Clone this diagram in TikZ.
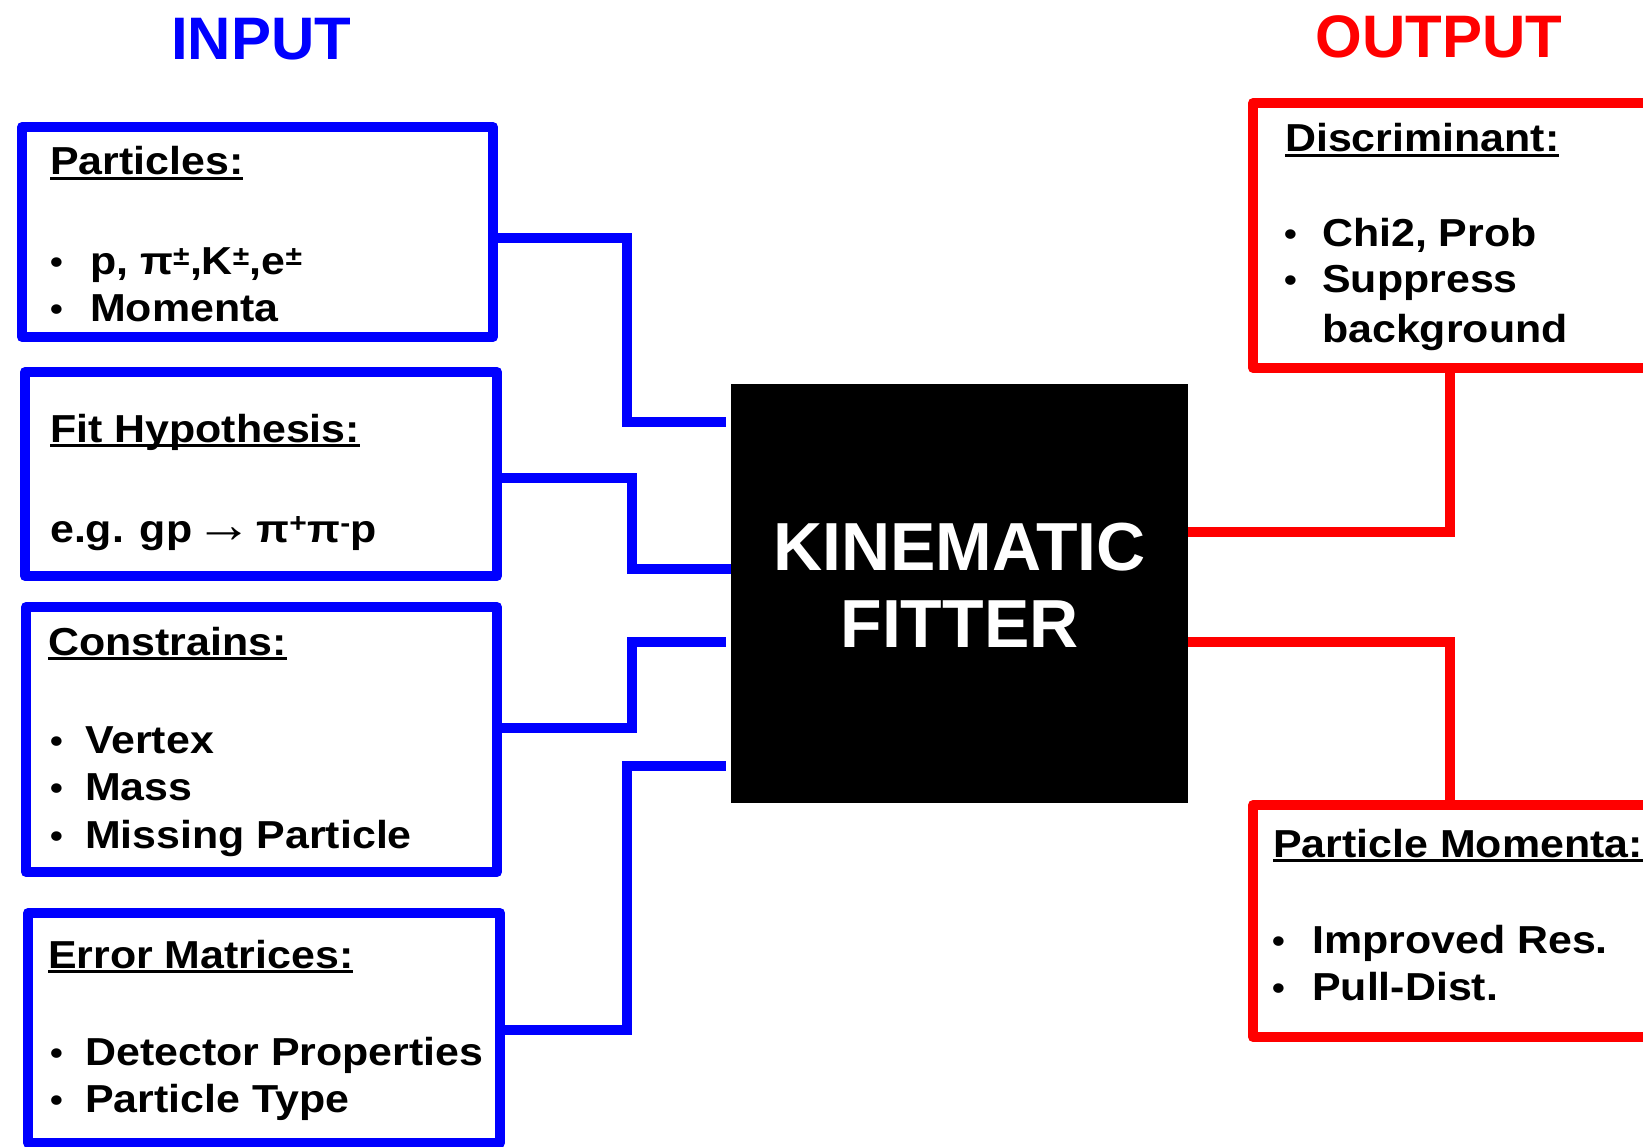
\documentclass[tikz,border=0pt]{standalone}
\usepackage{fontspec}
\setmainfont{Liberation Sans}
\newfontfamily\bodyf{Liberation Sans}[FakeStretch=1.1]
\newcommand\hd[1]{\leavevmode\setbox0=\hbox{#1}\rlap{\vrule height -2pt depth 5pt width \wd0}\box0}
\newcommand\bul[1][36pt]{\makebox[#1][l]{\raisebox{1pt}{\scalebox{0.85}{•}}}}
\begin{document}
\begin{tikzpicture}[x=1pt,y=-1pt,
  inbox/.style={draw=blue, line width=10pt, fill=white, inner sep=0pt, line join=round},
  outbox/.style={draw=red, line width=10pt, fill=white, inner sep=0pt, line join=round},
  bconn/.style={draw=blue, line width=10pt},
  rconn/.style={draw=red, line width=10pt},
  txt/.style={anchor=base west, inner sep=0pt, font=\bodyf\bfseries\fontsize{39}{47}\selectfont},
  title/.style={anchor=base, inner sep=0pt, font=\bfseries\fontsize{60}{70}\selectfont},
  kftxt/.style={anchor=base, inner sep=0pt, text=white, font=\bfseries\fontsize{68}{77}\selectfont}
  ]
\useasboundingbox (0,0) rectangle (1643,1147);
\clip (0,0) rectangle (1643,1147);
\fill[white] (0,0) rectangle (1643,1147);

% titles
\node[title, text=blue] (tin) at (261,60) {INPUT};
\node[title, text=red] (tout) at (1439,58) {OUTPUT};

% central box
\node[fill=black, inner sep=0pt, minimum width=457pt, minimum height=419pt] (kf) at (959.5,593.5) {};

% input boxes
\node[inbox, minimum width=471pt, minimum height=210pt] (b1) at (257.5,232) {};
\node[inbox, minimum width=472pt, minimum height=204pt] (b2) at (261,474) {};
\node[inbox, minimum width=471pt, minimum height=265pt] (b3) at (261.5,739.5) {};
\node[inbox, minimum width=472pt, minimum height=230pt] (b4) at (264,1028) {};

% output boxes
\node[outbox, minimum width=447pt, minimum height=265pt] (r1) at (1476.5,235.5) {};
\node[outbox, minimum width=447pt, minimum height=232pt] (r2) at (1476.5,921) {};

% connector junctions
\coordinate (j1) at (627,238);  \coordinate (k1) at (627,422);
\coordinate (j2) at (632,478);  \coordinate (k2) at (632,569);
\coordinate (j3) at (632,728);  \coordinate (k3) at (632,642);
\coordinate (j4) at (627,1030); \coordinate (k4) at (627,766);
\coordinate (m1) at (1450,532);
\coordinate (m2) at (1450,642);

\draw[bconn] (b1.east |- j1) -- (j1) -- (k1) -- ([xshift=-5pt]kf.west |- k1);
\draw[bconn] (b2.east |- j2) -- (j2) -- (k2) -- (kf.west |- k2);
\draw[bconn] (b3.east |- j3) -- (j3) -- (k3) -- ([xshift=-5pt]kf.west |- k3);
\draw[bconn] (b4.east |- j4) -- (j4) -- (k4) -- ([xshift=-5pt]kf.west |- k4);
\draw[rconn] (kf.east |- m1) -- (m1) -- (m1 |- r1.south);
\draw[rconn] (kf.east |- m2) -- (m2) -- (m2 |- r2.north);

% central text
\node[kftxt] (kt1) at (959.5,570) {KINEMATIC};
\node[kftxt] (kt2) at (959.5,647) {FITTER};

% box 1
\node[txt] (h1) at (50,175) {\hd{Particles:}};
\node[txt] (t1a) at (50,275) {\bul[40pt]p, π\textsuperscript{±},K\textsuperscript{±},e\textsuperscript{±}};
\node[txt] (t1b) at (50,322) {\bul[40pt]Momenta};

% box 2
\node[txt] (h2) at (50,442) {\hd{Fit Hypothesis:}};
\node[txt] (t2a) at (50,542) {e.g. gp\hspace{3pt}{\mdseries\fontsize{52}{47}\selectfont →}\hspace{4pt}π\textsuperscript{+}π\textsuperscript{-}p};

% box 3
\node[txt] (h3) at (48,655) {\hd{Constrains:}};
\node[txt] (t3a) at (50,753) {\bul[35pt]Vertex};
\node[txt] (t3b) at (50,800) {\bul[35pt]Mass};
\node[txt] (t3c) at (50,848) {\bul[35pt]Missing Particle};

% box 4
\node[txt] (h4) at (48,968) {\hd{Error Matrices:}};
\node[txt] (t4a) at (50,1065) {\bul[35pt]Detector Properties};
\node[txt] (t4b) at (50,1112) {\bul[35pt]Particle Type};

% output 1
\node[txt] (h5) at (1285,152) {\hd{Discriminant:}};
\node[txt] (t5a) at (1284,247) {\bul[38pt]Chi2, Prob};
\node[txt] (t5b) at (1284,293) {\bul[38pt]Suppress};
\node[txt] (t5c) at (1322,342) {background};

% output 2
\node[txt] (h6) at (1273,857) {\hd{Particle Momenta:}};
\node[txt] (t6a) at (1272,953) {\bul[40pt]Improved Res.};
\node[txt] (t6b) at (1272,1000) {\bul[40pt]Pull-Dist.};
\end{tikzpicture}
\end{document}
